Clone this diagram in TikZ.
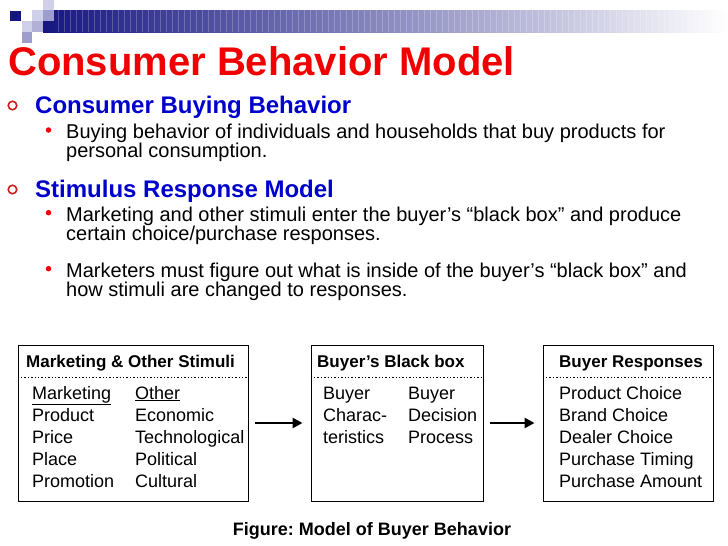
\documentclass[tikz,border=0pt]{standalone}
\usepackage{fontspec}
\setmainfont{Liberation Sans}
\frenchspacing
\usetikzlibrary{arrows.meta}
\definecolor{slidered}{RGB}{240,0,0}
\definecolor{slideblue}{RGB}{0,0,204}
\definecolor{bulletred}{RGB}{200,30,30}
\definecolor{barnavy}{RGB}{22,22,128}
\definecolor{barlight}{RGB}{208,208,234}
\definecolor{barmid}{RGB}{158,158,206}
\tikzset{
  slidetitle/.style={
    anchor=base west,
    inner sep=0pt,
    text=slidered,
    font=\fontsize{40}{40}\selectfont\bfseries
  },
  heading/.style={
    anchor=base west,
    inner sep=0pt,
    text=slideblue,
    font=\fontsize{24}{24}\selectfont\bfseries
  },
  body/.style={anchor=base west, inner sep=0pt, font=\fontsize{20}{20}\selectfont},
  ring/.style={
    circle,
    draw=bulletred,
    line width=1.6pt,
    minimum size=8.5pt,
    inner sep=0pt
  },
  dot/.style={circle, fill=slidered, minimum size=5.5pt, inner sep=0pt},
  panel/.style={draw=black, line width=0.9pt, minimum height=156pt, inner sep=0pt},
  panelhead/.style={anchor=base west, inner sep=0pt, font=\fontsize{17}{17}\selectfont\bfseries},
  item/.style={anchor=base west, inner sep=0pt, font=\fontsize{18}{18}\selectfont},
  divider/.style={line width=1.4pt, dotted},
  flow/.style={
    line width=2.6pt,
    -{Triangle[length=10pt, width=10pt]},
    shorten <=7pt,
    shorten >=8pt
  },
  caption/.style={anchor=base, inner sep=0pt, font=\fontsize{18}{18}\selectfont\bfseries}
}
\newcommand{\slidebar}{%
  \shade[left color=barnavy, right color=white] (43,10) rectangle (728,32);
  \foreach \x in {58,64,...,724}
    \draw[white, opacity=0.22, line width=0.6pt] (\x,10) -- (\x,32);
  \fill[barnavy] (10,11) rectangle (21,21);
  \fill[barlight] (43,0) rectangle (54,10);
  \fill[barlight] (32,10) rectangle (43,21);
  \fill[barmid] (43,10) rectangle (54,21);
  \fill[barlight] (22,21) rectangle (32,32);
  \fill[barmid!80] (32,21) rectangle (43,32);
  \fill[barmid] (22,32) rectangle (32,43);
}

\begin{document}
\begin{tikzpicture}[x=1pt, y=-1pt]
  \useasboundingbox (0,0) rectangle (728,546);
  \slidebar
  \node[slidetitle] (title) at (8,75) {Consumer Behavior Model};

  \node[ring] (o1) at (12.5,105.5) {};
  \node[heading] (h1) at (35,113) {Consumer Buying Behavior};
  \node[dot] (d1) at (48.5,130) {};
  \node[body] (b1a) at (66,138) {Buying behavior of individuals and households that buy products for};
  \node[body] (b1b) at (66,157) {personal consumption.};

  \node[ring] (o2) at (12.5,189.5) {};
  \node[heading] (h2) at (35,197) {Stimulus Response Model};
  \node[dot] (d2) at (48.5,212.7) {};
  \node[body] (b2a) at (66,221) {Marketing and other stimuli enter the buyer’s “black box” and produce};
  \node[body] (b2b) at (66,240) {certain choice/purchase responses.};
  \node[dot] (d3) at (48.5,268.7) {};
  \node[body] (b3a) at (66,277) {Marketers must figure out what is inside of the buyer’s “black box” and};
  \node[body] (b3b) at (66,296) {how stimuli are changed to responses.};

  % the three boxes of the model
  \node[panel, minimum width=230pt] (stim) at (133,423) {};
  \node[panel, minimum width=172pt] (blackbox) at (397,423) {};
  \node[panel, minimum width=170pt] (resp) at (628,423) {};
  \foreach \b in {stim,blackbox,resp}
    \draw[divider] ([yshift=-33pt]\b.north west) -- ([yshift=-33pt]\b.north east);

  \node[panelhead] (stimhead) at (26,367) {Marketing \& Other Stimuli};
  \foreach \t [count=\i from 0] in {\underline{Marketing},Product,Price,Place,Promotion}
    \node[item] (mk\i) at (32,399+22*\i) {\t};
  \foreach \t [count=\i from 0] in {\underline{Other},Economic,Technological,Political,Cultural}
    \node[item] (ot\i) at (135,399+22*\i) {\t};

  \node[panelhead] (boxhead) at (317,367) {Buyer’s Black box};
  \foreach \t [count=\i from 0] in {Buyer,Charac-,teristics}
    \node[item] (ch\i) at (323,399+22*\i) {\t};
  \foreach \t [count=\i from 0] in {Buyer,Decision,Process}
    \node[item] (dp\i) at (408,399+22*\i) {\t};

  \node[panelhead] (resphead) at (559,367) {Buyer Responses};
  \foreach \t [count=\i from 0] in {Product Choice,Brand Choice,Dealer Choice,Purchase Timing,Purchase Amount}
    \node[item] (rs\i) at (559,399+22*\i) {\t};

  \draw[flow] (stim) -- (blackbox);
  \draw[flow] (blackbox) -- (resp);

  \node[caption] (fig) at (372,535) {Figure: Model of Buyer Behavior};
\end{tikzpicture}
\end{document}
